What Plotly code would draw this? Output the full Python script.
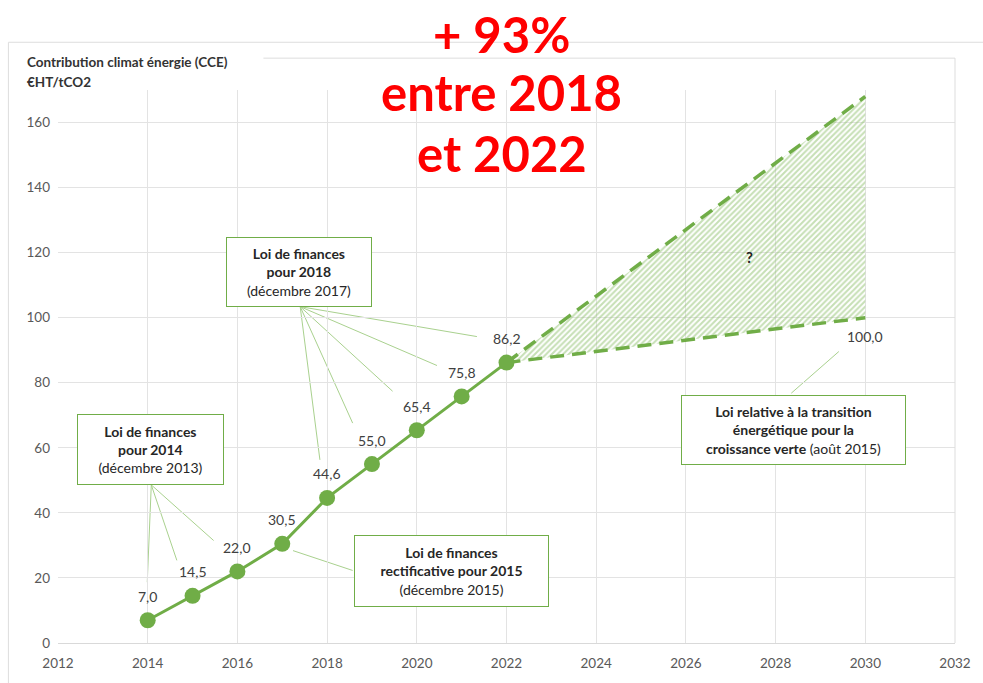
import plotly.graph_objects as go

# ---- data ----
years = [2014, 2015, 2016, 2017, 2018, 2019, 2020, 2021, 2022]
cce = [7.0, 14.5, 22.0, 30.5, 44.6, 55.0, 65.4, 75.8, 86.2]
labels = ["7,0", "14,5", "22,0", "30,5", "44,6", "55,0", "65,4", "75,8", "86,2"]

proj_years = [2022, 2030]
proj_low = [86.2, 100.0]
proj_high = [86.2, 168.0]
target_label = "100,0"

x_ticks = list(range(2012, 2033, 2))
y_ticks = list(range(0, 161, 20))

GREEN = "#70AD47"
LIGHT = "#A9D18E"
TXT = "#404040"
FONT = "Lato"

fig = go.Figure()

# hatched projection area
fig.add_trace(go.Scatter(x=proj_years, y=proj_low, mode="lines",
                         line=dict(color=GREEN, width=3.5, dash="14px,8px"),
                         hoverinfo="skip", showlegend=False))
fig.add_trace(go.Scatter(x=proj_years, y=proj_high, mode="lines",
                         line=dict(color=GREEN, width=3.5, dash="14px,8px"),
                         fill="tonexty", fillcolor="rgba(0,0,0,0)",
                         fillpattern=dict(shape="/", fgcolor="#8DC06B", bgcolor="rgba(255,255,255,0)",
                                          size=4, solidity=0.5),
                         hoverinfo="skip", showlegend=False))

# main series
fig.add_trace(go.Scatter(x=years, y=cce, mode="lines+markers",
                         line=dict(color=GREEN, width=3),
                         marker=dict(color=GREEN, size=16),
                         showlegend=False))

ann = []
for xv, yv, t in zip(years, cce, labels):
    ann.append(dict(x=xv, y=yv, text=t, showarrow=False, yshift=24,
                    font=dict(family=FONT, size=14, color=TXT)))
ann.append(dict(x=proj_years[1], y=proj_low[1], text=target_label, showarrow=False,
                yshift=-19, font=dict(family=FONT, size=14, color=TXT)))
ann.append(dict(x=2027.42, y=118.7, text="<b>?</b>", showarrow=False,
                font=dict(family=FONT, size=15, color="#222")))

def box(x, y, text, w, h):
    return dict(x=x, y=y, text=text, showarrow=False, xanchor="center", yanchor="middle",
                width=w, height=h, bgcolor="white", bordercolor=GREEN, borderwidth=1,
                borderpad=0, align="center",
                font=dict(family=FONT, size=14, color="#262626"))

ann.append(box(2014.07, 59.5, "<b>Loi de finances<br>pour 2014</b><br>(décembre 2013)", 145, 69))
ann.append(box(2017.38, 114.1, "<b>Loi de finances<br>pour 2018</b><br>(décembre 2017)", 144, 68))
ann.append(box(2020.77, 22.0, "<b>Loi de finances<br>rectificative pour 2015</b><br>(décembre 2015)", 193, 70))
ann.append(box(2028.40, 65.4, "<b>Loi relative à la transition<br>énergétique pour la<br>croissance verte</b> (août 2015)", 223, 68))

# chart title
ann.append(dict(xref="paper", yref="paper", x=-0.0365, y=1.0504, xanchor="left", yanchor="middle",
                text="<b>Contribution climat énergie (CCE)</b>", showarrow=False,
                font=dict(family=FONT, size=13.5, color="#333")))
ann.append(dict(xref="paper", yref="paper", x=-0.0365, y=1.0144, xanchor="left", yanchor="middle",
                text="<b>€HT/tCO2</b>", showarrow=False,
                font=dict(family=FONT, size=13.5, color="#333")))

# red headline
for txt, yp in [("+ 93%", 1.1007), ("entre 2018", 0.997), ("et 2022", 0.886)]:
    ann.append(dict(xref="paper", yref="paper", x=0.4945, y=yp, xanchor="center", yanchor="middle",
                    text="<b>" + txt + "</b>", showarrow=False,
                    font=dict(family=FONT, size=49, color="#FF0000")))

# leader lines
lc = dict(color=LIGHT, width=1)
leaders = [
    ((2014.08, 48.6), (2013.99, 18.7)),
    ((2014.08, 48.6), (2014.65, 25.4)),
    ((2014.08, 48.6), (2015.47, 31.5)),
    ((2017.40, 103.4), (2017.84, 56.3)),
    ((2017.40, 103.4), (2018.57, 67.6)),
    ((2017.40, 103.4), (2019.46, 77.4)),
    ((2017.40, 103.4), (2020.45, 85.3)),
    ((2017.40, 103.4), (2021.34, 94.2)),
    ((2017.24, 28.4), (2018.57, 22.3)),
    ((2028.35, 76.8), (2029.41, 89.6)),
]
shapes = []
for (x0, y0), (x1, y1) in leaders:
    shapes.append(dict(type="line", x0=x0, y0=y0, x1=x1, y1=y1, line=lc, layer="below"))

# frame
fc = dict(color="#DDDDDD", width=1)
shapes.append(dict(type="rect", xref="paper", yref="paper", x0=-0.0553, y0=-0.08, x1=1.05, y1=1.0863, line=fc))
shapes.append(dict(type="line", xref="paper", yref="paper", x0=0.229, y0=1.0576, x1=1.0, y1=1.0576, line=fc))
shapes.append(dict(type="line", xref="paper", yref="paper", x0=1.0, y0=0, x1=1.0, y1=1.0576, line=fc))

fig.update_layout(
    width=983, height=683,
    margin=dict(l=58, r=21, t=90, b=37),
    paper_bgcolor="white", plot_bgcolor="white",
    annotations=ann, shapes=shapes,
    font=dict(family=FONT, size=13, color="#595959"),
    xaxis=dict(range=[2012, 2032], tickvals=x_ticks, showgrid=True, gridcolor="#E3E3E3",
               zeroline=False, showline=True, linecolor="#D9D9D9", ticks="",
               ticklabelstandoff=8, tickfont=dict(family=FONT, size=13.5, color="#595959")),
    yaxis=dict(range=[0, 170], tickvals=y_ticks, showgrid=True, gridcolor="#E3E3E3",
               zeroline=False, showline=False, ticks="", ticklabelstandoff=7,
               tickfont=dict(family=FONT, size=13.5, color="#595959")),
)

fig.write_html("out.html", config={"displayModeBar": False},
               post_script="document.body.style.margin='0';document.body.style.overflow='hidden';")
